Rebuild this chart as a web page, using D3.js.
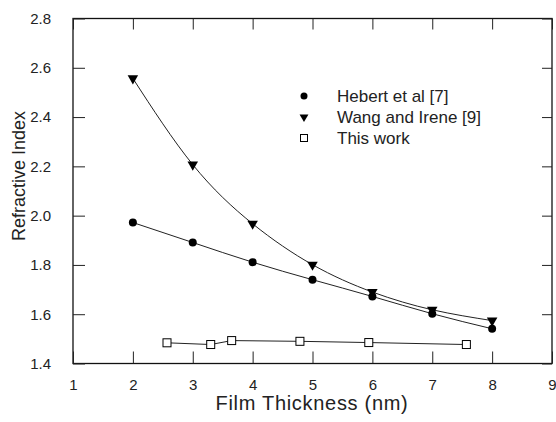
<!DOCTYPE html>
<html>
<head>
<meta charset="utf-8">
<script src="https://cdn.jsdelivr.net/npm/d3@7"></script>
<style>
body { margin: 0; background: #fff; }
svg text { font-family: "Liberation Sans", Arial, sans-serif; fill: #222; }
</style>
</head>
<body>
<svg width="556" height="422"></svg>
<script>
// thickness values shared by the two literature series
var thickness = [2, 3, 4, 5, 6, 7, 8];
var hebert = [1.972, 1.891, 1.811, 1.740, 1.672, 1.602, 1.541];
var wang = [2.557, 2.207, 1.967, 1.801, 1.690, 1.618, 1.574];

// this work: measured at its own thicknesses
var workThickness = [2.57, 3.30, 3.65, 4.79, 5.94, 7.57];
var workIndex = [1.484, 1.477, 1.493, 1.490, 1.485, 1.477];

var xTicks = [1, 2, 3, 4, 5, 6, 7, 8, 9];
var yTicks = [1.4, 1.6, 1.8, 2.0, 2.2, 2.4, 2.6, 2.8];
var legendNames = ["Hebert et al [7]", "Wang and Irene [9]", "This work"];

var box = {left: 73, right: 552, top: 18.5, bottom: 363.5};

var svg = d3.select("svg");

var xscale = d3.scaleLinear().domain([1, 9]).range([box.left, box.right]);
var yscale = d3.scaleLinear().domain([1.4, 2.8]).range([box.bottom, box.top]);

var toPoints = function(xs, ys)
{
    return xs.map(function(x, i) { return {x: x, y: ys[i]}; });
}

// frame with inward ticks on all four sides
svg.append("rect")
    .attr("x", box.left).attr("y", box.top)
    .attr("width", box.right - box.left).attr("height", box.bottom - box.top)
    .attr("fill", "none").attr("stroke", "#111").attr("stroke-width", 1.3);

var bottomAxis = svg.append("g")
    .attr("transform", "translate(0," + box.bottom + ")")
    .call(d3.axisBottom(xscale).tickValues(xTicks).tickSize(-12).tickPadding(16)
        .tickFormat(d3.format("d")));
var topAxis = svg.append("g")
    .attr("transform", "translate(0," + box.top + ")")
    .call(d3.axisTop(xscale).tickValues(xTicks).tickSize(-11).tickFormat(""));
var leftAxis = svg.append("g")
    .attr("transform", "translate(" + box.left + ",0)")
    .call(d3.axisLeft(yscale).tickValues(yTicks).tickSize(-12).tickPadding(22)
        .tickFormat(d3.format(".1f")));
var rightAxis = svg.append("g")
    .attr("transform", "translate(" + box.right + ",0)")
    .call(d3.axisRight(yscale).tickValues(yTicks).tickSize(-10).tickFormat(""));

[bottomAxis, topAxis, leftAxis, rightAxis].forEach(function(g)
{
    g.select(".domain").remove();
    g.selectAll(".tick line").attr("stroke", "#222");
    g.selectAll(".tick text")
        .style("font-size", "15px")
        .attr("fill", "#444");
});
bottomAxis.selectAll(".tick text").attr("dy", "0.71em");

// axis titles
svg.append("text")
    .attr("x", 312).attr("y", 410)
    .attr("text-anchor", "middle")
    .style("font-size", "20px")
    .style("letter-spacing", "0.7px")
    .text("Film Thickness (nm)");

svg.append("text")
    .attr("transform", "translate(25,176) rotate(-90)")
    .attr("text-anchor", "middle")
    .style("font-size", "18px")
    .text("Refractive Index");

// fitted curves
var smooth = d3.line()
    .x(function(d) { return xscale(d.x); })
    .y(function(d) { return yscale(d.y); })
    .curve(d3.curveNatural);
var straight = d3.line()
    .x(function(d) { return xscale(d.x); })
    .y(function(d) { return yscale(d.y); });

var hebertPts = toPoints(thickness, hebert);
var wangPts = toPoints(thickness, wang);
var workPts = toPoints(workThickness, workIndex);

svg.append("path").datum(hebertPts).attr("d", smooth)
    .attr("fill", "none").attr("stroke", "#222").attr("stroke-width", 1);
svg.append("path").datum(wangPts).attr("d", smooth)
    .attr("fill", "none").attr("stroke", "#222").attr("stroke-width", 1);
svg.append("path").datum(workPts).attr("d", straight)
    .attr("fill", "none").attr("stroke", "#222").attr("stroke-width", 1);

var triangle = d3.symbol().type(d3.symbolTriangle).size(48);

// markers
svg.append("g").selectAll("circle")
    .data(hebertPts)
    .enter()
    .append("circle")
    .attr("cx", function(d) { return xscale(d.x); })
    .attr("cy", function(d) { return yscale(d.y); })
    .attr("r", 4)
    .attr("fill", "#000");

svg.append("g").selectAll("path")
    .data(wangPts)
    .enter()
    .append("path")
    .attr("d", triangle)
    .attr("transform", function(d) {
        return "translate(" + xscale(d.x) + "," + yscale(d.y) + ") rotate(180)";
    })
    .attr("fill", "#000");

svg.append("g").selectAll("rect")
    .data(workPts)
    .enter()
    .append("rect")
    .attr("x", function(d) { return xscale(d.x) - 4; })
    .attr("y", function(d) { return yscale(d.y) - 4; })
    .attr("width", 8).attr("height", 8)
    .attr("fill", "#fff").attr("stroke", "#000").attr("stroke-width", 1);

// legend
var legend = svg.append("g").attr("transform", "translate(304,96)");
legendNames.forEach(function(name, i)
{
    var row = legend.append("g").attr("transform", "translate(0," + (i * 21) + ")");
    if (i == 0) {
        row.append("circle").attr("r", 3.5).attr("fill", "#000");
    } else if (i == 1) {
        row.append("path").attr("d", d3.symbol().type(d3.symbolTriangle).size(34))
            .attr("transform", "rotate(180)").attr("fill", "#000");
    } else {
        row.append("rect").attr("x", -3.5).attr("y", -3.5)
            .attr("width", 7).attr("height", 7)
            .attr("fill", "#fff").attr("stroke", "#000");
    }
    row.append("text")
        .attr("x", 33).attr("y", 6)
        .style("font-size", "17px")
        .text(name);
});
</script>
</body>
</html>
